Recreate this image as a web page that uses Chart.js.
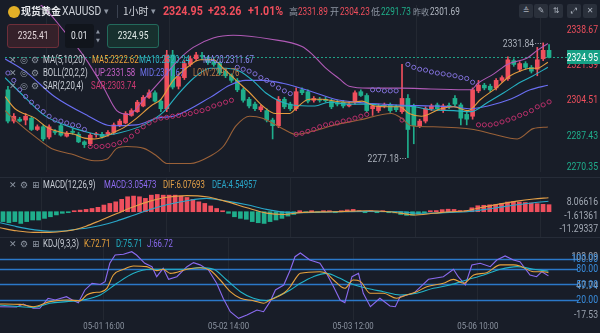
<!DOCTYPE html>
<html>
<head>
<meta charset="utf-8">
<script src="https://cdn.jsdelivr.net/npm/chart.js@4.4.1/dist/chart.umd.min.js"></script>
<style>
  body { margin: 0; background: #181d28; }
  #wrap { position: relative; width: 600px; height: 333px; overflow: hidden; background: #181d28;
          font-family: Roboto, sans-serif; color: #c9ced6; }
  canvas { position: absolute; left: 0; }
  .t { position: absolute; white-space: nowrap; font-size: 10px; line-height: 14px;
       transform: scaleX(0.82); transform-origin: 0 50%; }
  .lg { transform: scaleX(0.78); }
  .cn { font-family: "Noto Sans CJK SC", sans-serif; transform: none; }
  .ic { position: absolute; font-size: 9px; line-height: 14px; color: #8d95a2; font-family: "DejaVu Sans", sans-serif; }
  .btn { position: absolute; top: 4px; width: 14px; height: 14px; background: #2a303b; border-radius: 2px;
         color: #aab1bc; font-size: 8px; line-height: 14px; text-align: center; font-family: "DejaVu Sans", sans-serif; }
  .box { position: absolute; top: 24px; height: 24px; border-radius: 3px; box-sizing: border-box;
         font-size: 10.5px; line-height: 22px; text-align: center; }
  .box span { display: inline-block; transform: scaleX(0.8); }
  .sep { position: absolute; left: 0; width: 600px; height: 1px; background: #262c38; }
</style>
</head>
<body>
<div id="wrap">
  <canvas id="main" width="600" height="177" style="top:0"></canvas>
  <canvas id="macd" width="600" height="60" style="top:177px"></canvas>
  <canvas id="kdj" width="600" height="96" style="top:237px"></canvas>
  <div class="sep" style="top:177px"></div>
  <div class="sep" style="top:237px"></div>

  <!-- symbol bar -->
  <div style="position:absolute;left:8px;top:6px;width:12px;height:12px;border-radius:50%;background:#e3b027"></div>
  <span class="t cn" style="left:21px;top:4px;font-size:10px;font-weight:bold;color:#e8eaee">现货黄金</span>
  <span class="t" style="left:62px;top:4px;font-size:12.5px;color:#cfd3da">XAUUSD</span>
  <span class="ic" style="left:104px;top:4px">▾</span>
  <div style="position:absolute;left:117px;top:5px;width:1px;height:13px;background:#3b4250"></div>
  <span class="t cn" style="left:123px;top:4px;font-size:10px;color:#cfd3da">1小时</span>
  <span class="ic" style="left:151px;top:4px">▾</span>
  <span class="t" style="left:163px;top:4px;font-size:13px;font-weight:bold;color:#f04e5c">2324.95</span>
  <span class="t" style="left:208px;top:4px;font-size:13px;font-weight:bold;color:#f04e5c">+23.26</span>
  <span class="t" style="left:248px;top:4px;font-size:13px;font-weight:bold;color:#f04e5c">+1.01%</span>
  <span class="t cn" style="left:289px;top:5px;font-size:9px;color:#8f97a4">高</span>
  <span class="t" style="left:298px;top:5px;color:#f04e5c">2331.89</span>
  <span class="t cn" style="left:330px;top:5px;font-size:9px;color:#8f97a4">开</span>
  <span class="t" style="left:340px;top:5px;color:#f04e5c">2304.23</span>
  <span class="t cn" style="left:371px;top:5px;font-size:9px;color:#8f97a4">低</span>
  <span class="t" style="left:381px;top:5px;color:#1fb08b">2291.73</span>
  <span class="t cn" style="left:413px;top:5px;font-size:8px;color:#8f97a4">昨收</span>
  <span class="t" style="left:430px;top:5px;color:#b3b9c3">2301.69</span>
  <div class="btn" style="left:519px">≙</div>
  <div class="btn" style="left:534px">✎</div>
  <div class="btn" style="left:549px">⇅</div>
  <div class="btn" style="left:567px">⤢</div>
  <div class="btn" style="left:583px">✕</div>

  <!-- order inputs -->
  <div class="box" style="left:7px;width:52px;background:#35212a;border:1px solid #6e2f3a;color:#e3d6da"><span>2325.41</span></div>
  <div class="box" style="left:65px;width:29px;background:#11151c;color:#e6e8ec;line-height:24px"><span>0.01</span></div>
  <span class="ic" style="left:96px;top:27px;font-size:5px;line-height:9px">▲<br>▼</span>
  <div class="box" style="left:107px;width:52px;background:#17302e;border:1px solid #236a5c;color:#e3ece9"><span>2324.95</span></div>

  <!-- indicator legends -->
  <span class="ic" style="left:9px;top:53px">✕</span><span class="ic" style="left:20px;top:53px">◎</span><span class="ic" style="left:31px;top:53px">⚙</span>
  <span class="t lg" style="left:43px;top:53px">MA(5,10,20)</span>
  <span class="t lg" style="left:92px;top:53px;color:#e9a23b">MA5:2322.62</span>
  <span class="t lg" style="left:139px;top:53px;color:#2fb4c6">MA10:2320.24</span>
  <span class="t lg" style="left:203px;top:53px;color:#8a8cf0">MA20:2311.67</span>

  <span class="ic" style="left:9px;top:66px">✕</span><span class="ic" style="left:20px;top:66px">◎</span><span class="ic" style="left:31px;top:66px">⚙</span>
  <span class="t lg" style="left:43px;top:66px">BOLL(20,2,2)</span>
  <span class="t lg" style="left:95px;top:66px;color:#c661c8">UP:2331.58</span>
  <span class="t lg" style="left:140px;top:66px;color:#6f73f0">MID:2311.67</span>
  <span class="t lg" style="left:193px;top:66px;color:#b97a45">LOW:2291.76</span>

  <span class="ic" style="left:9px;top:79px">✕</span><span class="ic" style="left:20px;top:79px">◎</span><span class="ic" style="left:31px;top:79px">⚙</span>
  <span class="t lg" style="left:43px;top:79px">SAR(2,20,4)</span>
  <span class="t lg" style="left:91px;top:79px;color:#d03a74">SAR:2303.74</span>

  <span class="ic" style="left:9px;top:178px">✕</span><span class="ic" style="left:20px;top:178px">⚙</span><span class="ic" style="left:32px;top:178px">⊞</span>
  <span class="t lg" style="left:43px;top:178px">MACD(12,26,9)</span>
  <span class="t lg" style="left:104px;top:178px;color:#8f6cf2">MACD:3.05473</span>
  <span class="t lg" style="left:163px;top:178px;color:#e3a048">DIF:6.07693</span>
  <span class="t lg" style="left:212px;top:178px;color:#2aa7c9">DEA:4.54957</span>

  <span class="ic" style="left:9px;top:237px">✕</span><span class="ic" style="left:20px;top:237px">⚙</span><span class="ic" style="left:32px;top:237px">⊞</span>
  <span class="t lg" style="left:43px;top:237px">KDJ(9,3,3)</span>
  <span class="t lg" style="left:84px;top:237px;color:#e9a23b">K:72.71</span>
  <span class="t lg" style="left:116px;top:237px;color:#22b3c8">D:75.71</span>
  <span class="t lg" style="left:147px;top:237px;color:#8b6bf0">J:66.72</span>
</div>

<script>
// hourly XAUUSD candles, oldest first
const opens = [2309.5,2294.6,2295.5,2295.1,2296.0,2290.6,2291.9,2287.0,2289.7,2292.4,
  2287.4,2289.7,2288.3,2284.7,2283.8,2288.1,2288.3,2288.3,2289.2,2292.4,
  2293.7,2297.3,2299.1,2301.8,2305.9,2308.1,2304.1,2300.5,2326.1,2311.2,
  2315.3,2321.6,2324.3,2325.6,2324.3,2322.9,2322.0,2318.4,2316.2,2314.0,
  2309.5,2305.0,2302.7,2300.0,2299.6,2295.1,2292.4,2305.0,2302.7,2300.5,
  2309.5,2308.6,2304.5,2305.0,2305.0,2304.1,2303.2,2303.6,2301.8,2303.6,
  2308.6,2306.8,2300.5,2299.6,2301.8,2302.3,2301.4,2299.1,2305.4,2301.8,
  2292.4,2294.6,2300.5,2302.3,2299.6,2301.8,2305.4,2302.3,2297.8,2296.9,
  2309.0,2311.7,2311.2,2310.4,2314.0,2314.8,2323.4,2319.3,2322.0,2320.2,
  2319.3,2324.3,2328.3];
const highs = [2311.2,2298.2,2296.4,2298.2,2296.9,2292.8,2292.8,2292.8,2290.6,2293.3,
  2289.7,2291.0,2289.2,2285.2,2288.8,2289.2,2289.2,2290.1,2293.7,2295.5,
  2299.1,2300.5,2304.5,2306.8,2309.5,2309.0,2305.0,2328.3,2328.3,2317.1,
  2323.4,2325.6,2327.4,2327.4,2325.6,2324.3,2322.9,2319.3,2317.1,2314.9,
  2310.4,2305.9,2303.6,2302.3,2300.5,2296.0,2306.3,2305.9,2303.6,2310.4,
  2310.4,2309.5,2306.3,2305.9,2305.9,2305.0,2304.5,2304.5,2303.6,2309.0,
  2309.5,2307.7,2302.7,2302.7,2303.2,2303.2,2302.3,2321.6,2307.2,2302.7,
  2295.5,2301.4,2302.7,2303.2,2302.7,2303.2,2306.8,2303.2,2299.1,2310.4,
  2314.0,2312.6,2312.2,2314.9,2316.2,2325.2,2324.3,2322.9,2322.9,2321.1,
  2329.7,2331.84,2331.0];
const lows = [2293.7,2293.7,2294.2,2292.8,2290.1,2290.1,2285.2,2286.1,2288.3,2287.4,
  2287.0,2288.3,2284.3,2282.0,2282.9,2287.0,2286.5,2287.4,2288.3,2291.9,
  2293.3,2296.9,2298.7,2301.4,2305.4,2303.6,2299.1,2299.1,2309.9,2309.9,
  2314.4,2320.7,2323.4,2323.8,2321.6,2320.7,2316.6,2315.3,2313.0,2308.6,
  2303.6,2300.9,2299.6,2299.1,2294.2,2286.1,2291.5,2300.5,2299.6,2299.6,
  2307.2,2303.2,2303.6,2303.6,2303.6,2300.5,2301.8,2300.9,2301.4,2302.7,
  2306.3,2298.7,2297.3,2298.7,2300.9,2298.7,2299.1,2298.2,2277.18,2283.8,
  2291.5,2293.7,2299.6,2299.6,2298.7,2300.5,2301.8,2292.8,2292.8,2295.5,
  2308.1,2309.5,2308.6,2309.5,2313.0,2314.0,2320.7,2318.4,2319.3,2317.5,
  2316.2,2323.4,2324.7];
const closes = [2294.6,2296.9,2294.6,2296.9,2290.6,2291.9,2286.1,2291.9,2289.2,2287.9,
  2288.8,2289.2,2284.7,2283.4,2287.9,2288.3,2287.0,2289.2,2292.8,2294.6,
  2298.2,2299.6,2303.6,2305.9,2308.1,2304.1,2300.5,2326.1,2310.8,2315.7,
  2322.0,2324.3,2326.1,2325.4,2322.5,2321.6,2317.5,2316.2,2314.0,2309.5,
  2304.5,2301.8,2300.5,2301.4,2295.1,2292.4,2305.0,2301.4,2300.5,2308.6,
  2308.1,2304.1,2305.4,2304.5,2304.3,2301.4,2302.7,2301.8,2302.7,2308.1,
  2306.8,2299.6,2301.8,2301.8,2302.3,2299.6,2300.0,2305.4,2290.6,2292.4,
  2294.6,2300.5,2301.8,2300.5,2301.8,2301.6,2302.7,2296.0,2295.5,2309.5,
  2311.7,2310.4,2309.5,2314.0,2315.3,2323.8,2321.6,2322.0,2320.2,2318.4,
  2323.8,2328.3,2324.95];

// overlays, [bar index, value]
const ma5 = [[-0.5,2306.3],[1.2,2300.5],[4.6,2296.0],[6.7,2291.5],[9.1,2289.2],[11.3,2288.3],[13,2286.5],[14.7,2286.1],
  [16.3,2287.0],[18,2289.2],[19.7,2291.5],[21.9,2296.0],[24.3,2301.8],[26,2305.0],[28.1,2314.0],[30.3,2319.8],
  [32.7,2323.8],[34.9,2323.8],[36.6,2319.8],[38.8,2314.0],[41.1,2308.1],[43.3,2301.8],[45.5,2298.2],[47.9,2298.2],
  [48.9,2300.5],[51.2,2305.0],[53.4,2305.0],[55.6,2304.1],[58,2303.6],[60.2,2304.1],[62.3,2301.8],[64.7,2301.4],
  [66.6,2301.4],[68.2,2298.2],[70.3,2296.9],[73.6,2300.5],[75.8,2301.4],[78.2,2299.6],[80.4,2305.0],[83.2,2310.8],
  [85.4,2316.2],[87.1,2318.4],[88.8,2319.8],[90,2319.8],[91.8,2322.62]];
const ma10 = [[-0.5,2315.3],[2.9,2305.9],[6.2,2297.3],[9.6,2292.8],[13,2289.7],[16.3,2287.9],[19.2,2289.2],[23.1,2292.8],
  [26.5,2299.1],[28.6,2306.3],[31.5,2314.9],[34.4,2319.8],[37.1,2319.8],[39.4,2318.4],[41.6,2314.0],[43.8,2308.1],
  [46.2,2304.1],[48.4,2302.3],[52.2,2301.8],[54.6,2303.6],[58,2302.7],[61.3,2302.7],[64.7,2301.8],[66.9,2301.8],
  [69.1,2301.4],[71.9,2300.0],[75.8,2299.6],[78.7,2299.1],[81.6,2303.6],[84.3,2308.1],[87.1,2313.1],[89.3,2316.2],
  [91.8,2320.24]];
const ma20 = [[-0.5,2324.3],[2.9,2318.4],[7.9,2306.3],[13.5,2297.3],[17.5,2292.4],[21.9,2292.8],[25.3,2296.0],[28.6,2297.3],
  [34.4,2305.9],[37.7,2311.7],[40.4,2314.0],[43.3,2314.0],[46.7,2312.6],[51.7,2308.6],[55.6,2305.0],[60.7,2303.2],
  [66.4,2302.3],[72,2301.8],[75.8,2301.4],[78.7,2300.5],[81.6,2301.8],[85.4,2305.0],[88.8,2309.5],[91.8,2311.67]];
const bollUp = [[-0.5,2353.0],[3,2352.5],[5.6,2349.9],[9.6,2337.3],[13,2325.2],[16.3,2310.4],[18.5,2299.6],[20.6,2297.8],
  [23.1,2305.0],[26,2314.0],[29,2323.8],[31.5,2329.7],[34.9,2334.2],[38.3,2335.5],[44.5,2333.7],[50,2330.1],
  [51.7,2326.5],[53.9,2320.2],[56.3,2314.8],[58,2311.2],[61.3,2310.3],[66.9,2310.3],[71.9,2309.9],[78.7,2309.5],
  [79.9,2312.6],[82.6,2317.1],[84.9,2321.6],[88.3,2324.7],[90,2328.3],[91.8,2331.58]];
const bollLow = [[-0.5,2299.6],[1.2,2295.1],[5.1,2286.1],[7.4,2281.6],[10.8,2278.9],[14.7,2275.7],[16.9,2276.6],[18.5,2281.6],
  [20.2,2282.5],[23.1,2281.6],[25.3,2278.0],[27,2274.4],[31,2274.4],[34.4,2278.0],[36.6,2282.5],[38.8,2292.4],
  [41.1,2296.9],[43.3,2296.0],[46.7,2291.0],[48.9,2288.3],[52.2,2290.1],[55.6,2292.8],[59.7,2295.1],[65.2,2298.2],
  [66.9,2296.0],[68.6,2292.4],[71.9,2291.9],[79.2,2290.6],[82.6,2288.3],[86.6,2286.1],[89.3,2291.0],[91.8,2291.76]];
const sar = [2317.5,2314.0,2309.5,2306.3,2303.6,2301.4,2299.1,2296.9,2295.1,2294.6,
  2293.7,2292.8,2292.4,2290.6,2282.5,2282.5,2282.5,2282.9,2283.4,2284.3,
  2285.6,2287.4,2289.7,2291.9,2293.7,2295.1,2296.0,2296.4,2296.9,2297.3,
  2297.8,2298.2,2299.1,2299.6,2300.5,2301.8,2302.7,2303.6,2304.5,2320.2,
  2319.3,2318.4,2317.1,2315.3,2314.0,2312.2,2310.4,2309.0,2307.7,2288.3,
  2288.8,2289.7,2290.6,2291.9,2292.8,2293.3,2293.7,2294.6,2295.1,2296.0,
  2296.9,2297.8,2309.5,2309.5,2309.0,2309.0,2309.0,2295.1,2321.6,2320.2,
  2319.3,2318.9,2318.0,2317.5,2317.1,2316.6,2316.2,2315.3,2314.9,2313.1,
  2292.8,2292.8,2292.8,2293.3,2294.2,2295.1,2296.0,2297.3,2298.2,2299.6,
  2301.4,2302.3,2303.74];

// MACD(12,26,9)
const macdHist = [-4.3,-4.8,-4.3,-5.1,-4.3,-3.6,-3.6,-2.9,-2.2,-1.4,
  -0.7,-0.2,0.1,0.7,1.0,1.4,1.9,2.9,3.6,4.3,
  5.4,6.5,6.8,6.5,5.8,7.2,7.5,7.2,7.2,7.2,
  6.8,6.2,5.4,4.3,3.6,2.5,1.4,0.4,-0.7,-2.2,
  -2.9,-3.3,-4.3,-4.8,-5.1,-4.3,-3.6,-2.9,-1.9,-1.2,
  0.2,-0.2,0.1,-0.1,0.2,0.1,-0.1,0.3,0.8,1.0,
  0.4,-0.2,0.1,-0.1,0.2,-0.3,-0.5,-1.2,-1.6,-1.5,
  -1.1,-0.5,0.3,0.5,0.9,1.1,1.0,0.5,0.4,1.7,
  2.6,2.8,3.0,3.1,3.6,4.2,4.4,4.2,4.0,3.8,
  3.5,3.2,3.05];
const dif = [[-0.5,-7.0],[2.3,-8.3],[5.1,-9.0],[7.9,-9.0],[10.7,-8.4],[12.4,-7.6],[14,-6.3],[16.4,-3.8],[19.2,-0.8],
  [22,2.2],[24.8,4.6],[27.6,6.3],[31,7.0],[34.3,6.5],[37.7,4.4],[41.1,1.7],[44.4,-0.6],[47.3,-1.2],[50,-0.4],
  [55.7,0],[61.3,0.4],[65,0],[66.9,-0.6],[69.2,-1.4],[72.5,-0.7],[75.3,0],[78.1,0.4],[79.8,1.4],[83.8,3.4],
  [86.6,4.6],[89.4,5.5],[91.9,6.08]];
const dea = [[-0.5,-4.8],[2.3,-6.5],[5.1,-7.8],[7.9,-8.5],[10.7,-8.3],[12.4,-7.6],[14,-7.2],[16.4,-6.0],[19.2,-4.0],
  [22,-1.5],[24.8,1.0],[27.6,3.0],[31,4.8],[34.3,5.8],[37.7,4.6],[41.1,3.0],[44.4,1.0],[47.3,-0.2],[50,-0.4],
  [55.7,-0.1],[61.3,0.1],[66.9,0],[69.7,-0.7],[72.5,-0.6],[75.3,-0.3],[78.1,0],[81,0.9],[83.8,2.0],[86.6,3.0],
  [89.4,3.9],[91.9,4.55]];

// KDJ(9,3,3)
const kdjK = [[-0.5,12.3],[2.9,11.5],[5.1,7],[7.9,16.8],[10.7,20],[13,18.4],[14.1,29.7],[15.2,34.2],[16.6,36.1],
  [17.5,42.6],[18.6,68.4],[20.3,79.4],[22,85.8],[24.2,84.5],[25.9,76.8],[27,79.4],[28.2,71.6],[31,79.4],[33.2,82.3],
  [34.9,77.4],[36.6,58.7],[38.3,36.1],[40,23.3],[42.2,18.7],[43.9,13.6],[45,20],[47.3,33],[48.4,45.7],[49.2,60],
  [50.1,71.6],[53.4,74.8],[54.5,71.6],[55.7,58.7],[57.6,42.6],[59,58.7],[60.2,56],[61.9,33],[64.1,33],[66.3,23.3],
  [68,29.7],[69.7,36.1],[71.4,45.7],[74.2,52.3],[75.9,60],[77.6,52.3],[79.3,68.4],[81.5,72.9],[83.8,88],[86,88],
  [87.1,85.8],[89.4,74.8],[91.1,74.8],[91.9,72.71]];
const kdjD = [[-0.5,10.3],[5.1,5.8],[7.9,13.6],[10.7,16.8],[13.5,20],[16.4,29.7],[19.2,52.3],[22,71.6],[24.8,79.4],
  [27.6,79.4],[30.4,79.4],[33.2,82.6],[35.5,79.4],[37.7,58.7],[40,36.1],[42.2,23.3],[44.4,18.7],[46.1,26.4],
  [48.4,39.4],[50.1,52.3],[52.3,65.1],[54.5,71.6],[56.8,61.9],[58.5,52.3],[61.3,42.6],[64.1,36.1],[66.9,29.7],
  [69.7,33],[72.5,42.6],[75.3,49],[78.1,58.7],[81,68.4],[83.8,79.4],[86.6,84.5],[89.4,79.4],[91.9,75.71]];
const kdjJ = [[-0.5,7.0],[2.3,6.4],[3.4,12.3],[5.1,3.9],[6.2,3.9],[7.6,23.3],[8.8,20],[10.7,26.4],[11.6,20.5],
  [12.7,14.8],[13.8,39.4],[15,52.3],[16.4,50],[17.2,55.5],[18,91],[18.9,107],[20.3,108.6],[21.7,113.5],[22.5,107],
  [23.9,91],[25.1,84.5],[25.9,65.1],[27,81.3],[27.9,60],[29.3,65.1],[31,84.5],[32.1,92.3],[33.2,88],[34.6,78.4],
  [36,52.3],[37.1,23.3],[38.3,-2.6],[39.7,-15.5],[41.1,-9],[42.8,0.6],[43.9,-2.6],[45,16.8],[45.9,39.4],[47.3,49],
  [48.4,78],[49.2,103.8],[50.1,111],[51.7,97.4],[53.4,91],[54.5,71.6],[55.7,45.7],[56.8,20],[57.6,15],[58.8,65.1],
  [59.9,71.6],[60.7,33],[61.9,7],[63.5,23.3],[65.2,8.4],[66.1,7],[66.9,26.4],[69.2,33],[71.7,60],[74.2,65.1],
  [75.9,79.4],[76.7,65.1],[77.9,49],[79,87.7],[80.4,91],[82.1,84.5],[83.2,97.4],[84.6,105.2],[86,97.4],[87.1,94.2],
  [88.8,68.4],[89.9,65.1],[90.8,74.8],[91.9,66.72]];

const priceTicks = [2338.67, 2321.59, 2304.51, 2287.43, 2270.35];
const macdTicks = [8.06616, -1.61361, -11.29337];
const kdjLevels = [100, 80, 50, 20];
const kdjExtra = [103.09, 47.74, -17.53];
const timeIdx = [17, 38, 59, 80];
const timeLabels = ['05-01 16:00', '05-02 14:00', '05-03 12:00', '05-06 10:00'];
const lastPrice = 2324.95;
const prevClose = 2301.69;
const dayHigh = { i: 91, v: 2331.84 };
const dayLow = { i: 68, v: 2277.18 };

const RED = '#ef4f5d';
const GREEN = '#1fae8c';
const FONT = '10.5px Roboto, sans-serif';
Chart.defaults.font.family = 'Roboto, sans-serif';

const bars = closes.length;
const pts = a => a.map(([x, y]) => ({ x, y }));

function line(data, color, order, smooth = true) {
  return { type: 'line', data: pts(data), borderColor: color, borderWidth: 1.1, pointRadius: 0,
           cubicInterpolationMode: smooth ? 'monotone' : 'default', tension: 0, order };
}

// the app's numerals are condensed, so squeeze canvas text horizontally
function narrowText(ctx, text, x, y, align) {
  ctx.save();
  ctx.translate(x, y);
  ctx.scale(0.82, 1);
  ctx.textAlign = align;
  ctx.fillText(text, 0, 0);
  ctx.restore();
}

function xScale(bottom) {
  return {
    type: 'linear', min: -0.5, max: bars - 0.5, offset: false,
    afterBuildTicks: s => { s.ticks = timeIdx.map(v => ({ value: v })); },
    afterFit: s => { s.height = bottom; },
    grid: { color: 'rgba(255,255,255,0.05)', drawTicks: false },
    border: { display: false },
    ticks: { display: false }
  };
}

// axis labels, reference lines and markers drawn against a pane's value scale
const paneDecor = {
  id: 'paneDecor',
  beforeDatasetsDraw(chart, args, o) {
    const { ctx, chartArea: a } = chart;
    const ys = chart.scales[o.scale || 'y'];
    ctx.save();
    (o.lines || []).forEach(l => {
      const y = Math.round(ys.getPixelForValue(l.v)) + 0.5;
      ctx.strokeStyle = l.color;
      ctx.lineWidth = l.width || 1;
      ctx.setLineDash(l.dash || []);
      ctx.beginPath(); ctx.moveTo(a.left, y); ctx.lineTo(l.x2, y); ctx.stroke();
    });
    ctx.restore();
  },
  afterDraw(chart, args, o) {
    const { ctx, chartArea: a } = chart;
    const ys = chart.scales[o.scale || 'y'];
    const xs = chart.scales.x;
    ctx.save();
    ctx.font = FONT;
    ctx.textBaseline = 'middle';
    (o.labels || []).forEach(l => {
      let y = ys.getPixelForValue(l.v);
      y = Math.min(Math.max(y, o.minY), o.maxY);
      if (l.box) {
        ctx.fillStyle = l.box;
        ctx.fillRect(o.boxX, Math.round(y) - 7, chart.width - o.boxX, 14);
      }
      ctx.fillStyle = l.color;
      narrowText(ctx, l.text, o.x, y + 0.5, 'right');
    });
    (o.marks || []).forEach(m => {
      const px = xs.getPixelForValue(m.i), py = ys.getPixelForValue(m.v);
      ctx.fillStyle = '#aab0ba';
      narrowText(ctx, m.v.toFixed(2), px - 9, py + 1.5, 'right');
      ctx.strokeStyle = '#aab0ba';
      ctx.setLineDash([1, 1.5]);
      ctx.beginPath(); ctx.moveTo(px - 8, Math.round(py) + 0.5); ctx.lineTo(px - 1, Math.round(py) + 0.5); ctx.stroke();
    });
    if (o.timeAxis) {
      ctx.font = '9.5px Roboto, sans-serif';
      ctx.fillStyle = '#8c94a1';
      timeIdx.forEach((v, k) => narrowText(ctx, timeLabels[k], xs.getPixelForValue(v), a.bottom + 7, 'center'));
    }
    ctx.restore();
  }
};

const quiet = { legend: { display: false }, tooltip: { enabled: false } };
const idx = closes.map((_, i) => i);
const candleColors = idx.map(i => closes[i] >= opens[i] ? RED : GREEN);

new Chart(document.getElementById('main'), {
  type: 'bar',
  data: {
    datasets: [
      { type: 'line', data: sar.map((v, i) => ({ x: i, y: v })), showLine: false, pointRadius: 2.1,
        pointBorderWidth: 1, pointBackgroundColor: 'rgba(0,0,0,0)',
        pointBorderColor: sar.map((v, i) => v > closes[i] ? '#7f6fd6' : '#b8306a'), order: 1 },
      line(ma5, '#e39b3e', 2),
      line(ma10, '#26b0c2', 3),
      line(ma20, '#6a6ef2', 4),
      line(bollUp, '#b05ab6', 5),
      line(bollLow, '#9a6138', 5),
      { data: idx.map(i => ({ x: i, y: [opens[i], closes[i]] })), backgroundColor: candleColors,
        barThickness: 4, minBarLength: 1, grouped: false, order: 10 },
      { data: idx.map(i => ({ x: i, y: [lows[i], highs[i]] })), backgroundColor: candleColors,
        barThickness: 1, grouped: false, order: 11 }
    ]
  },
  options: {
    responsive: false, animation: false, events: [],
    layout: { padding: { right: 48 } },
    scales: { x: xScale(0), y: { display: false, min: 2270.35, max: 2349.9 } },
    plugins: {
      ...quiet,
      paneDecor: {
        lines: [{ v: lastPrice, color: '#1f9f86', dash: [2, 2], x2: 567 }],
        labels: priceTicks.map(v => ({ v, text: v.toFixed(2), color: v > prevClose ? RED : GREEN }))
          .concat([{ v: lastPrice, text: lastPrice.toFixed(2), color: '#ffffff', box: '#16a085' }]),
        x: 598, minY: 30, maxY: 167, boxX: 567,
        marks: [dayHigh, dayLow]
      }
    }
  },
  plugins: [paneDecor]
});

new Chart(document.getElementById('macd'), {
  type: 'bar',
  data: {
    datasets: [
      line(dif, '#e3a048', 1),
      line(dea, '#2aa7c9', 2),
      { data: macdHist.map((v, i) => ({ x: i, y: v })), backgroundColor: macdHist.map(v => v >= 0 ? RED : GREEN),
        barThickness: 4, minBarLength: 1, grouped: false, order: 5 }
    ]
  },
  options: {
    responsive: false, animation: false, events: [],
    layout: { padding: { right: 48 } },
    scales: {
      x: xScale(0),
      y: { display: false, min: -11.0, max: 15.1 },
      yl: { display: false, min: -17.03, max: 25.99 }
    },
    plugins: {
      ...quiet,
      paneDecor: { scale: 'yl', labels: macdTicks.map(v => ({ v, text: String(v), color: '#a3aab5' })),
                   x: 598, minY: 0, maxY: 60 }
    }
  },
  plugins: [paneDecor]
});

new Chart(document.getElementById('kdj'), {
  type: 'line',
  data: {
    datasets: [
      line(kdjK, '#e8a33d', 1),
      line(kdjD, '#22b3c8', 2),
      line(kdjJ, '#8b6bf0', 3, false)
    ]
  },
  options: {
    responsive: false, animation: false, events: [],
    layout: { padding: { right: 48 } },
    scales: { x: xScale(13), y: { display: false, min: -18.7, max: 141.9 } },
    plugins: {
      ...quiet,
      paneDecor: {
        lines: kdjLevels.map(v => ({ v, color: '#2b78c8', width: 1.3, x2: 578 })),
        labels: kdjExtra.map(v => ({ v, text: v.toFixed(2), color: '#9aa2ae' }))
          .concat(kdjLevels.map(v => ({ v, text: v.toFixed(2), color: '#3a8fe0' }))),
        x: 598, minY: 6, maxY: 78,
        timeAxis: true
      }
    }
  },
  plugins: [paneDecor]
});
</script>
</body>
</html>
